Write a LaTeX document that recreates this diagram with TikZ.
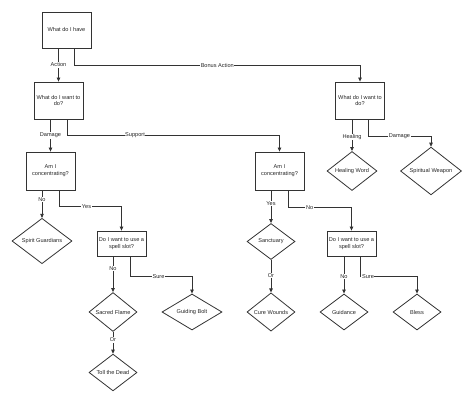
\documentclass[tikz,border=0pt]{standalone}
\usepackage{fontspec}
\setmainfont{Liberation Sans}
\usetikzlibrary{shapes.geometric,arrows.meta}
\begin{document}
\begin{tikzpicture}[x=1pt,y=-1pt,
  every node/.style={font=\fontsize{5.6}{6.8}\selectfont, text=black!85},
  box/.style={draw=black!80, line width=0.8pt, fill=white, align=center, inner sep=0pt, minimum width=49pt},
  dia/.style={draw=black!80, line width=0.8pt, fill=white, diamond, inner sep=0pt, minimum height=36pt},
  arr/.style={draw=black!80, line width=0.8pt, -{Triangle[length=4pt,width=3.5pt]}},
  lab/.style={fill=white, inner sep=0.6pt}]
\useasboundingbox (0,0) rectangle (474,403);
% boxes
\node[box, minimum height=36pt] (A) at (66.5,30) {What do I have};
\node[box, minimum height=37pt] (B) at (58.5,100.5) {What do I want to\\do?};
\node[box, minimum height=37pt] (C) at (360,100.5) {What do I want to\\do?};
\node[box, minimum height=38pt] (D) at (50.5,171) {Am I\\concentrating?};
\node[box, minimum height=38pt] (E) at (279.5,171) {Am I\\concentrating?};
\node[box, minimum height=25pt] (F) at (121.5,243.5) {Do I want to use a\\spell slot?};
\node[box, minimum height=25pt] (G) at (351.5,243.5) {Do I want to use a\\spell slot?};
% diamonds
\node[dia, minimum width=50pt] (HW) at (352,171) {Healing Word};
\node[dia, minimum width=61pt] (SW) at (431,171) {Spiritual Weapon};
\node[dia, minimum width=60pt] (SG) at (42,241) {Spirit Guardians};
\node[dia, minimum width=48pt] (SF) at (113,312) {Sacred Flame};
\node[dia, minimum width=60pt] (GB) at (192,312) {Guiding Bolt};
\node[dia, minimum width=48pt] (TD) at (113,372.5) {Toll the Dead};
\node[dia, minimum width=48pt] (SA) at (271,241.5) {Sanctuary};
\node[dia, minimum width=48pt] (CW) at (271,312) {Cure Wounds};
\node[dia, minimum width=48pt] (GU) at (344,312) {Guidance};
\node[dia, minimum width=48pt] (BL) at (417,312) {Bless};
% connectors
\draw[arr] ([xshift=-8pt]A.south) -- node[lab]{Action} (B.north);
\draw[arr] ([xshift=8pt]A.south) -- ++(0,17) -| node[lab, pos=0.25]{Bonus Action} (C.north);
\draw[arr] ([xshift=-8pt]B.south) -- node[lab]{Damage} (D.north);
\draw[arr] ([xshift=8.5pt]B.south) -- ++(0,16) -| node[lab, pos=0.16]{Support} (E.north);
\draw[arr] ([xshift=-8pt]C.south) -- node[lab, pos=0.56]{Healing} (HW.north);
\draw[arr] ([xshift=8pt]C.south) -- ++(0,17) -| node[lab, pos=0.25]{Damage} (SW.north);
\draw[arr] ([xshift=-8.5pt]D.south) -- node[lab, pos=0.33]{No} (SG.north);
\draw[arr] ([xshift=8.5pt]D.south) -- ++(0,16) -| node[lab, pos=0.22]{Yes} (F.north);
\draw[arr] ([xshift=-8.5pt]E.south) -- node[lab, pos=0.41]{Yes} (SA.north);
\draw[arr] ([xshift=8.5pt]E.south) -- ++(0,17) -| node[lab, pos=0.17]{No} (G.north);
\draw[arr] ([xshift=-8.5pt]F.south) -- node[lab, pos=0.34]{No} (SF.north);
\draw[arr] ([xshift=8.5pt]F.south) -- ++(0,20) -| node[lab, pos=0.23]{Sure} (GB.north);
\draw[arr] ([xshift=-7.5pt]G.south) -- node[lab, pos=0.53]{No} (GU.north);
\draw[arr] ([xshift=8.5pt]G.south) -- ++(0,20) -| node[lab, pos=0.07]{Sure} (BL.north);
\draw[arr] (SF.south) -- node[lab, pos=0.375]{Or} (TD.north);
\draw[arr] (SA.south) -- node[lab, pos=0.49]{Or} (CW.north);
\end{tikzpicture}
\end{document}
